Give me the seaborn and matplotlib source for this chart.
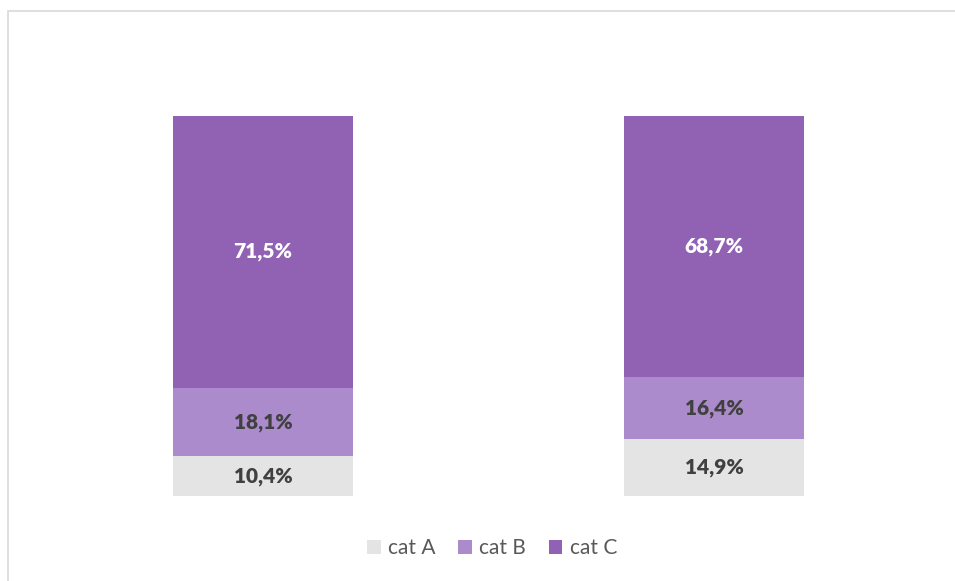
import matplotlib
matplotlib.use("Agg")

import pandas as pd
import matplotlib.pyplot as plt
from matplotlib.patches import Patch, Rectangle
import seaborn as sns

# ── Data ──────────────────────────────────────────────────────────────────────
groups = ["bar 1", "bar 2"]
series = ["cat A", "cat B", "cat C"]
cat_a = [10.4, 14.9]
cat_b = [18.1, 16.4]
cat_c = [71.5, 68.7]

# ── Style ─────────────────────────────────────────────────────────────────────
COL_A = "#E4E4E4"
COL_B = "#AB8BCB"
COL_C = "#9162B4"
DARK = "#404040"
LEGEND_TXT = "#595959"

sns.set_theme(style="white")
plt.rcParams["font.family"] = ["Lato", "DejaVu Sans"]

df = pd.DataFrame({"group": groups, "cat A": cat_a, "cat B": cat_b, "cat C": cat_c})
df["cum_a"] = df["cat A"]
df["cum_b"] = df["cat A"] + df["cat B"]
df["cum_c"] = df["cum_b"] + df["cat C"]

fig = plt.figure(figsize=(9.55, 5.81), dpi=100)
fig.patch.set_facecolor("white")
ax = fig.add_axes([37.5 / 955, 85 / 581, 902 / 955, 380 / 581])

# stacked bars drawn back-to-front from cumulative totals
for col, color in [("cum_c", COL_C), ("cum_b", COL_B), ("cum_a", COL_A)]:
    sns.barplot(data=df, x="group", y=col, color=color, width=0.4,
                saturation=1, linewidth=0, ax=ax)

ax.set_ylim(0, 100)
ax.set_xlim(-0.5, 1.5)
ax.set_axis_off()

# segment labels
for i in range(len(groups)):
    bottoms = [0, df["cum_a"][i], df["cum_b"][i]]
    vals = [cat_a[i], cat_b[i], cat_c[i]]
    colors = [DARK, DARK, "white"]
    for b, v, c in zip(bottoms, vals, colors):
        ax.text(i, b + v / 2, f"{v:.1f}%".replace(".", ","), ha="center", va="center",
                fontsize=15, fontweight="heavy", color=c)

# legend
handles = [Patch(facecolor=c, edgecolor="none") for c in (COL_A, COL_B, COL_C)]
fig.legend(handles, series, loc="center", bbox_to_anchor=(492 / 955, 1 - 548 / 581),
           ncol=3, frameon=False, fontsize=15, handlelength=0.65, handleheight=0.65,
           handletextpad=0.35, columnspacing=1.1, labelcolor=LEGEND_TXT)

# chart-area border (only left/top visible in the crop)
fig.add_artist(Rectangle((7.5 / 955, -0.1), 1.2, 1.1 - 10.5 / 581, transform=fig.transFigure,
                         fill=False, edgecolor="#D9D9D9", linewidth=1.2))

fig.savefig("out.png", dpi=100)
